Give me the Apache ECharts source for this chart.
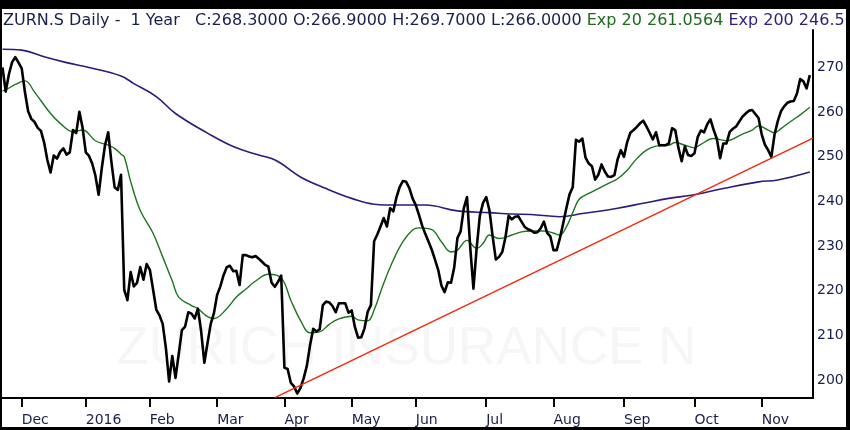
<!DOCTYPE html>
<html>
<head>
<meta charset="utf-8">
<script src="https://cdn.jsdelivr.net/npm/echarts@6/dist/echarts.min.js"></script>
<style>
html,body{margin:0;padding:0;background:#fff;}
#c{width:850px;height:430px;}
</style>
</head>
<body>
<div id="c"></div>
<script>
const dates = [
'2015-11-23','2015-11-24','2015-11-25','2015-11-26','2015-11-27','2015-11-30',
'2015-12-01','2015-12-02','2015-12-03','2015-12-04','2015-12-07','2015-12-08','2015-12-09','2015-12-10','2015-12-11','2015-12-14','2015-12-15','2015-12-16','2015-12-17','2015-12-18','2015-12-21','2015-12-22','2015-12-23','2015-12-28','2015-12-29','2015-12-30',
'2016-01-04','2016-01-05','2016-01-06','2016-01-07','2016-01-08','2016-01-11','2016-01-12','2016-01-13','2016-01-14','2016-01-15','2016-01-18','2016-01-19','2016-01-20','2016-01-21','2016-01-22','2016-01-25','2016-01-26','2016-01-27','2016-01-28','2016-01-29',
'2016-02-01','2016-02-02','2016-02-03','2016-02-04','2016-02-05','2016-02-08','2016-02-09','2016-02-10','2016-02-11','2016-02-12','2016-02-15','2016-02-16','2016-02-17','2016-02-18','2016-02-19','2016-02-22','2016-02-23','2016-02-24','2016-02-25','2016-02-26','2016-02-29',
'2016-03-01','2016-03-02','2016-03-03','2016-03-04','2016-03-07','2016-03-08','2016-03-09','2016-03-10','2016-03-11','2016-03-14','2016-03-15','2016-03-16','2016-03-17','2016-03-18','2016-03-21','2016-03-22','2016-03-23','2016-03-24','2016-03-29','2016-03-30','2016-03-31',
'2016-04-01','2016-04-04','2016-04-05','2016-04-06','2016-04-07','2016-04-08','2016-04-11','2016-04-12','2016-04-13','2016-04-14','2016-04-15','2016-04-18','2016-04-19','2016-04-20','2016-04-21','2016-04-22','2016-04-25','2016-04-26','2016-04-27','2016-04-28','2016-04-29',
'2016-05-02','2016-05-03','2016-05-04','2016-05-06','2016-05-09','2016-05-10','2016-05-11','2016-05-12','2016-05-13','2016-05-17','2016-05-18','2016-05-19','2016-05-20','2016-05-23','2016-05-24','2016-05-25','2016-05-26','2016-05-27','2016-05-30','2016-05-31',
'2016-06-01','2016-06-02','2016-06-03','2016-06-06','2016-06-07','2016-06-08','2016-06-09','2016-06-10','2016-06-13','2016-06-14','2016-06-15','2016-06-16','2016-06-17','2016-06-20','2016-06-21','2016-06-22','2016-06-23','2016-06-24','2016-06-27','2016-06-28','2016-06-29','2016-06-30',
'2016-07-01','2016-07-04','2016-07-05','2016-07-06','2016-07-07','2016-07-08','2016-07-11','2016-07-12','2016-07-13','2016-07-14','2016-07-15','2016-07-18','2016-07-19','2016-07-20','2016-07-21','2016-07-22','2016-07-25','2016-07-26','2016-07-27','2016-07-28','2016-07-29',
'2016-08-02','2016-08-03','2016-08-04','2016-08-05','2016-08-08','2016-08-09','2016-08-10','2016-08-11','2016-08-12','2016-08-15','2016-08-16','2016-08-17','2016-08-18','2016-08-19','2016-08-22','2016-08-23','2016-08-24','2016-08-25','2016-08-26','2016-08-29','2016-08-30','2016-08-31',
'2016-09-01','2016-09-02','2016-09-05','2016-09-06','2016-09-07','2016-09-08','2016-09-09','2016-09-12','2016-09-13','2016-09-14','2016-09-15','2016-09-16','2016-09-19','2016-09-20','2016-09-21','2016-09-22','2016-09-23','2016-09-26','2016-09-27','2016-09-28','2016-09-29','2016-09-30',
'2016-10-03','2016-10-04','2016-10-05','2016-10-06','2016-10-07','2016-10-10','2016-10-11','2016-10-12','2016-10-13','2016-10-14','2016-10-17','2016-10-18','2016-10-19','2016-10-20','2016-10-21','2016-10-24','2016-10-25','2016-10-26','2016-10-27','2016-10-28','2016-10-31',
'2016-11-01','2016-11-02','2016-11-03','2016-11-04','2016-11-07','2016-11-08','2016-11-09','2016-11-10','2016-11-11','2016-11-14','2016-11-15','2016-11-16','2016-11-17','2016-11-18','2016-11-21','2016-11-22'
];

const closePrices = [
270.0,264.6,268.5,271.2,272.3,271.1,269.8,264.5,260.2,258.5,
257.8,256.5,255.8,253.2,249.3,246.5,250.3,249.6,251.1,251.9,
250.5,251.0,256.0,255.3,260.1,256.5,251.0,250.2,248.5,245.8,
241.5,247.5,252.6,255.5,248.8,243.2,242.6,246.0,220.2,217.9,
224.2,221.0,221.8,225.3,222.5,226.0,224.7,220.3,215.8,214.5,
212.6,207.2,199.7,205.4,200.5,205.8,211.2,212.0,215.2,214.9,
213.8,216.0,211.0,203.9,208.3,212.6,215.0,219.1,221.0,223.5,
225.3,225.6,224.4,224.5,221.3,228.0,228.0,227.7,227.5,227.8,
227.2,226.5,225.8,225.4,221.8,220.9,222.0,223.4,202.8,202.5,
199.4,198.6,197.0,198.2,200.4,203.2,207.8,211.5,210.9,211.4,
216.8,217.6,217.4,216.6,215.2,217.2,217.2,217.2,215.1,215.6,
211.9,209.5,209.6,211.6,215.3,216.8,231.1,232.6,234.4,236.3,
234.4,238.5,237.8,241.0,243.3,244.6,244.4,243.0,240.7,239.2,
237.0,234.6,232.7,231.0,229.2,227.0,224.7,221.2,219.7,221.9,
221.8,225.2,231.8,233.3,238.5,241.0,229.8,220.5,229.5,236.8,
239.7,241.0,238.0,232.2,227.0,227.6,228.7,232.0,236.8,236.0,
236.6,236.7,235.5,234.3,233.8,233.5,233.0,233.1,234.0,235.5,
233.0,232.2,229.1,229.1,231.8,235.0,238.5,241.6,243.2,253.8,
253.4,254.1,249.8,248.5,247.9,244.9,246.0,248.3,246.7,245.6,
245.5,245.9,249.4,251.5,250.0,253.3,255.4,256.0,256.7,257.5,
258.1,256.8,255.4,253.9,255.5,252.6,252.6,252.6,253.0,256.4,
256.0,252.0,249.0,252.3,250.4,250.2,250.8,254.4,255.9,255.5,
257.3,258.4,256.0,254.0,249.7,253.0,253.0,255.6,256.3,256.8,
257.9,259.0,259.7,260.3,260.5,259.6,258.7,255.0,252.7,251.5,
250.0,255.0,258.0,260.2,261.3,262.1,262.4,262.5,264.2,267.4,
266.9,265.3,268.3
];

// Exp 20 readings: [day index, value]
const ema20 = [
[0,264.8],[1,265.0],[4,266.2],[7,267.0],[10,264.5],[15,259.7],[18,257.5],[22,255.6],[25,256.0],
[29,253.6],[33,252.6],[35,251.9],[37,250.6],[38,250.0],[40,244.5],[43,238.0],[47,232.9],[50,227.6],
[53,222.2],[55,218.6],[59,216.7],[61,216.0],[64,214.2],[66,213.8],[70,216.0],[73,218.6],[76,220.4],
[79,222.2],[83,223.7],[87,222.9],[90,217.9],[93,213.4],[96,210.6],[99,210.8],[102,212.5],[105,213.7],
[109,214.3],[111,213.5],[114,213.3],[116,215.7],[119,221.7],[122,226.9],[125,231.0],[128,233.6],
[130,234.1],[134,233.7],[137,231.0],[140,228.7],[142,229.1],[145,231.3],[148,229.5],[150,230.6],
[152,232.5],[155,231.7],[159,232.5],[162,233.2],[165,233.4],[169,233.4],[172,232.9],[174,232.5],
[176,234.3],[178,237.5],[180,240.5],[183,241.8],[186,242.9],[189,244.0],[192,245.1],[195,247.0],
[198,249.6],[201,251.5],[204,252.4],[208,252.6],[210,253.2],[213,252.6],[216,252.0],[218,252.8],
[222,254.1],[226,253.6],[231,255.1],[234,256.0],[236,256.9],[239,256.0],[241,255.4],[243,256.3],
[246,257.9],[249,259.4],[252,261.1]
];

// Exp 200 readings: [day index, value]
const ema200 = [
[0,274.1],[6,273.9],[13,272.4],[20,271.1],[27,270.0],[37,268.1],[41,266.4],[48,263.5],[54,259.7],
[64,255.3],[72,252.3],[80,250.4],[84,249.6],[87,248.5],[93,245.5],[101,242.9],[109,240.7],[116,239.4],
[124,239.2],[132,239.2],[142,237.9],[152,237.5],[159,237.2],[165,237.1],[174,236.6],[181,237.3],
[192,238.5],[200,239.6],[208,240.7],[215,241.4],[225,242.9],[236,244.4],[242,244.8],[252,246.6]
];

// Red trendline end points: [day index, value]
const trendLine = [[85,196.1],[253,254.2]];

const monthLabels = ['Dec','2016','Feb','Mar','Apr','May','Jun','Jul','Aug','Sep','Oct','Nov'];
const yTicks = [200,210,220,230,240,250,260,270];
const titleMain = 'ZURN.S Daily -  1 Year   C:268.3000 O:266.9000 H:269.7000 L:266.0000 ';
const titleExp20 = 'Exp 20 261.0564 ';
const titleExp200 = 'Exp 200 246.5000';
const watermark = 'ZURICH INSURANCE N';

const cats = dates.concat(['']);
const monthStart = {};
let m = 0;
for (let i = 1; i < dates.length; i++) {
  if (dates[i].slice(5,7) !== dates[i-1].slice(5,7)) { monthStart[i] = monthLabels[m++]; }
}

const chart = echarts.init(document.getElementById('c'));
const FONT = 'DejaVu Sans';
const NAVY = '#18204e';
chart.setOption({
  animation: false,
  backgroundColor: '#fff',
  grid: { left: 2.5, right: 37, top: 30, bottom: 32, containLabel: false },
  xAxis: {
    type: 'category', data: cats, boundaryGap: false,
    axisLine: { show: true, lineStyle: { color: '#000', width: 2 } },
    axisTick: { show: true, alignWithLabel: true, length: 9, lineStyle: { color: '#000', width: 2 },
      interval: (idx) => monthStart[idx] !== undefined },
    axisLabel: { show: true, interval: (idx) => monthStart[idx] !== undefined,
      formatter: (v, idx) => monthStart[idx] || '', align: 'left', margin: 15,
      color: NAVY, fontFamily: FONT, fontSize: 14 },
    splitLine: { show: false }
  },
  yAxis: {
    type: 'value', position: 'right', min: 196, max: 278.4, interval: 1,
    axisLine: { show: true, onZero: false, lineStyle: { color: '#000', width: 2 } },
    axisTick: { show: false },
    splitLine: { show: false },
    axisLabel: { show: true, margin: 4, color: NAVY, fontFamily: FONT, fontSize: 14,
      formatter: (v) => yTicks.indexOf(v) >= 0 ? String(v) : '' },
    scale: true
  },
  graphic: [
    { type: 'text', z: 0, style: { text: watermark, x: 406.5, y: 349,
      align: 'center', verticalAlign: 'middle', font: '53px "Liberation Sans"', fill: '#f6f6f6' } },
    { type: 'text', z: 50, style: { x: 3, y: 21, verticalAlign: 'middle',
      text: '{a|' + titleMain + '}{g|' + titleExp20 + '}{p|' + titleExp200 + '}',
      rich: {
        a: { fontFamily: FONT, fontSize: 16, fill: NAVY, color: NAVY },
        g: { fontFamily: FONT, fontSize: 16, fill: '#1d6a1d', color: '#1d6a1d' },
        p: { fontFamily: FONT, fontSize: 16, fill: '#2e1f7c', color: '#2e1f7c' }
      } } },
    { type: 'rect', z: 100, shape: { x: 0, y: 0, width: 850, height: 9 }, style: { fill: '#000' } },
    { type: 'rect', z: 100, shape: { x: 0, y: 0, width: 2, height: 430 }, style: { fill: '#000' } },
    { type: 'rect', z: 100, shape: { x: 846, y: 0, width: 4, height: 430 }, style: { fill: '#000' } },
    { type: 'rect', z: 100, shape: { x: 0, y: 427, width: 850, height: 3 }, style: { fill: '#000' } }
  ],
  series: [
    { name: 'Exp 200', type: 'line', data: ema200, smooth: 0.4, symbol: 'none', z: 2,
      lineStyle: { color: '#2b1c7a', width: 1.6 } },
    { name: 'Exp 20', type: 'line', data: ema20, smooth: 0.4, symbol: 'none', z: 3,
      lineStyle: { color: '#1e741e', width: 1.4 } },
    { name: 'Close', type: 'line', data: closePrices, symbol: 'none', z: 4,
      lineStyle: { color: '#000', width: 2.6, join: 'round' } },
    { name: 'Trend', type: 'line', data: trendLine, symbol: 'none', z: 5,
      lineStyle: { color: '#f02a10', width: 1.5 } }
  ]
});
</script>
</body>
</html>
